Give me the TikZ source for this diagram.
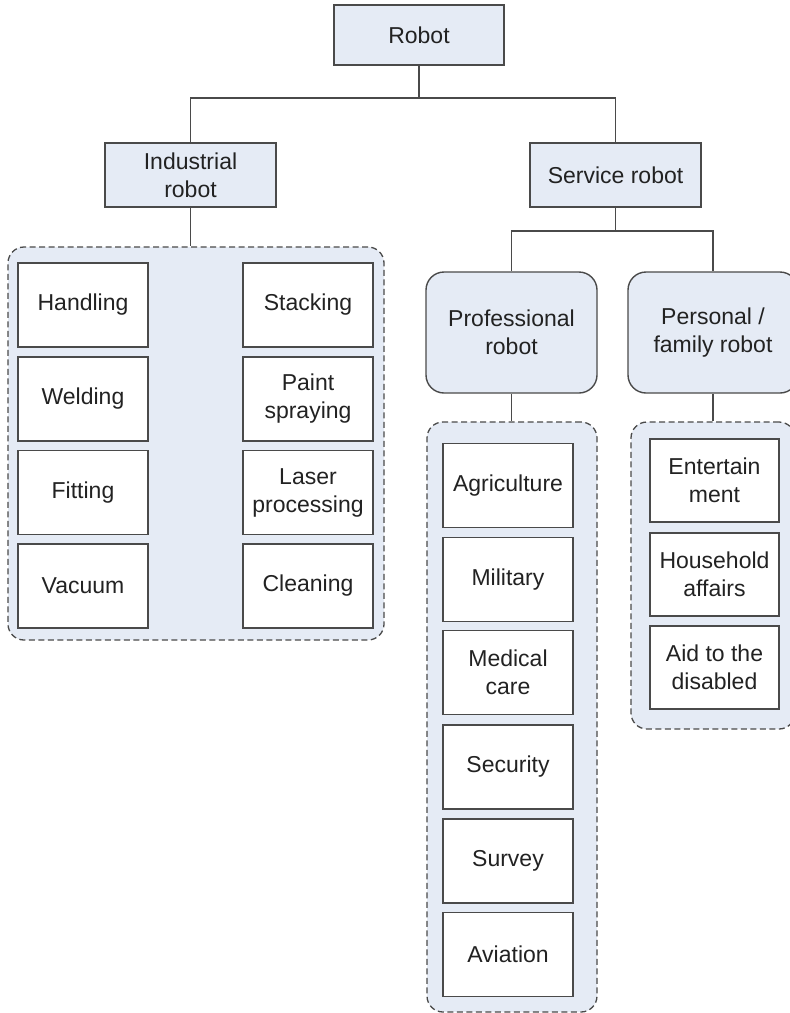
\documentclass[tikz,border=0pt]{standalone}
\usepackage{fontspec}
\setmainfont{Liberation Sans}
\definecolor{boxfill}{HTML}{E5EBF5}
\definecolor{linecol}{HTML}{4A4A4A}
\definecolor{txtcol}{HTML}{222222}
\begin{document}
\begin{tikzpicture}[x=1pt,y=-1pt,
  every node/.style={font=\fontsize{23}{28}\selectfont, text=txtcol, align=center, inner sep=0pt},
  headbox/.style={draw=linecol, line width=1.4pt, fill=boxfill, rectangle},
  roundbox/.style={draw=linecol, line width=1.4pt, fill=boxfill, rectangle, rounded corners=18pt},
  groupbox/.style={draw=linecol, line width=1.3pt, fill=boxfill, dash pattern=on 6pt off 3.5pt, rounded corners=16pt, rectangle},
  leafbox/.style={draw=linecol, line width=1.4pt, fill=white, rectangle, minimum width=130pt, minimum height=84pt},
  conn/.style={draw=linecol, line width=1.4pt}]
\useasboundingbox (0,0) rectangle (790,1013);

% top level
\node[headbox, minimum width=170pt, minimum height=60pt] (robot) at (419,35) {Robot};
\node[headbox, minimum width=171pt, minimum height=64pt] (ind) at (190.5,175) {Industrial\\robot};
\node[headbox, minimum width=171pt, minimum height=64pt] (srv) at (615.5,175) {Service robot};
\coordinate (j1) at (419,98);
\draw[conn] (robot.south) -- (j1);
\draw[conn] (ind.north) -- (ind.north |- j1) -- (srv.north |- j1) -- (srv.north);

% industrial group
\node[groupbox, minimum width=376pt, minimum height=393pt] (indgrp) at (196,443.5) {};
\draw[conn] (ind.south) -- (ind.south |- indgrp.north);
\node[leafbox] (handling) at (83,305) {Handling};
\node[leafbox] (welding) at (83,399) {Welding};
\node[leafbox] (fitting) at (83,492.5) {Fitting};
\node[leafbox] (vacuum) at (83,586) {Vacuum};
\node[leafbox] (stacking) at (308,305) {Stacking};
\node[leafbox] (paint) at (308,399) {Paint\\spraying};
\node[leafbox] (laser) at (308,492.5) {Laser\\processing};
\node[leafbox] (cleaning) at (308,586) {Cleaning};

% service sub-level
\node[roundbox, minimum width=171pt, minimum height=121pt] (prof) at (511.5,332.5) {Professional\\robot};
\node[roundbox, minimum width=170pt, minimum height=121pt] (pers) at (713,332.5) {Personal /\\family robot};
\coordinate (j2) at (615.5,231);
\draw[conn] (srv.south) -- (j2);
\draw[conn] (prof.north) -- (prof.north |- j2) -- (pers.north |- j2) -- (pers.north);

% professional group
\node[groupbox, minimum width=170pt, minimum height=590pt] (profgrp) at (512,717) {};
\draw[conn] (prof.south) -- (prof.south |- profgrp.north);
\node[leafbox] (agri) at (508,485.5) {Agriculture};
\node[leafbox] (mil) at (508,579.5) {Military};
\node[leafbox] (med) at (508,672.5) {Medical\\care};
\node[leafbox] (sec) at (508,767) {Security};
\node[leafbox] (surv) at (508,861) {Survey};
\node[leafbox] (avi) at (508,954.5) {Aviation};

% personal group
\node[groupbox, minimum width=164pt, minimum height=307pt] (persgrp) at (713,575.5) {};
\draw[conn] (pers.south) -- (pers.south |- persgrp.north);
\node[leafbox, minimum width=129pt, minimum height=83pt] (ent) at (714.5,480.5) {Entertain\\ment};
\node[leafbox, minimum width=129pt, minimum height=83pt] (house) at (714.5,574.5) {Household\\affairs};
\node[leafbox, minimum width=129pt, minimum height=83pt] (aid) at (714.5,667.5) {Aid to the\\disabled};
\end{tikzpicture}
\end{document}
